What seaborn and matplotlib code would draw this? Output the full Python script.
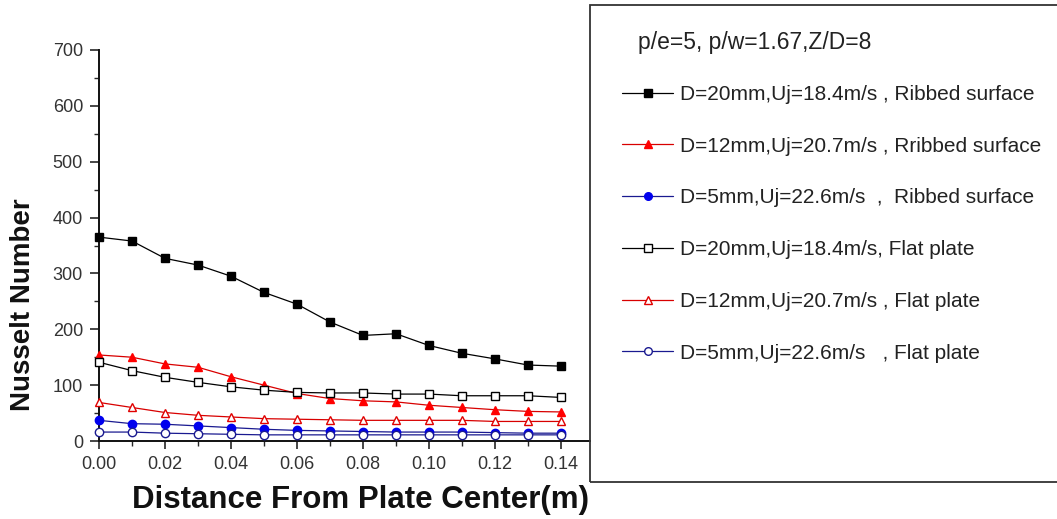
import matplotlib
matplotlib.use("Agg")
import matplotlib.pyplot as plt
from matplotlib.patches import Rectangle
from matplotlib.ticker import MultipleLocator, FormatStrFormatter
import seaborn as sns
import pandas as pd

# ---- data ----
distance = [0.00, 0.01, 0.02, 0.03, 0.04, 0.05, 0.06, 0.07, 0.08, 0.09, 0.10, 0.11, 0.12, 0.13, 0.14]
ribbed_d20 = [365, 358, 327, 315, 295, 266, 245, 213, 189, 192, 171, 157, 147, 136, 134]
ribbed_d12 = [154, 150, 138, 132, 115, 100, 85, 76, 72, 70, 64, 60, 56, 53, 52]
ribbed_d5 = [37, 31, 30, 27, 24, 21, 19, 18, 17, 16, 16, 16, 15, 14, 14]
flat_d20 = [141, 126, 114, 105, 97, 91, 87, 86, 86, 84, 84, 81, 81, 81, 78]
flat_d12 = [69, 60, 51, 46, 43, 40, 39, 38, 37, 37, 37, 37, 35, 35, 35]
flat_d5 = [16, 16, 14, 13, 12, 11, 11, 11, 11, 11, 11, 11, 11, 11, 11]

labels = [
    "D=20mm,Uj=18.4m/s , Ribbed surface",
    "D=12mm,Uj=20.7m/s , Rribbed surface",
    "D=5mm,Uj=22.6m/s  ,  Ribbed surface",
    "D=20mm,Uj=18.4m/s, Flat plate",
    "D=12mm,Uj=20.7m/s , Flat plate",
    "D=5mm,Uj=22.6m/s   , Flat plate",
]
series = [ribbed_d20, ribbed_d12, ribbed_d5, flat_d20, flat_d12, flat_d5]
legend_title = "p/e=5, p/w=1.67,Z/D=8"
x_label = "Distance From Plate Center(m)"
y_label = "Nusselt Number"

frames = []
for lab, vals in zip(labels, series):
    frames.append(pd.DataFrame({"x": distance, "y": vals, "series": lab}))
df = pd.concat(frames, ignore_index=True)

# ---- styles ----
styles = [
    dict(color="#000000", marker="s", mfc="#000000", mec="#000000"),
    dict(color="#d80000", marker="^", mfc="#ff0000", mec="#ff0000"),
    dict(color="#1a1a90", marker="o", mfc="#0000ee", mec="#0000ee"),
    dict(color="#000000", marker="s", mfc="white", mec="#000000"),
    dict(color="#d80000", marker="^", mfc="white", mec="#e00000"),
    dict(color="#1a1a90", marker="o", mfc="white", mec="#1a1a90"),
]

sns.set_style("ticks")
plt.rcParams["font.family"] = ["Liberation Sans", "DejaVu Sans"]

W, H = 1057, 519
fig = plt.figure(figsize=(W / 100, H / 100), dpi=100)
ax = fig.add_axes([99 / W, (H - 441) / H, (590 - 99) / W, (441 - 50) / H])

for lab, st in zip(labels, styles):
    sub = df[df["series"] == lab]
    sns.lineplot(data=sub, x="x", y="y", ax=ax, estimator=None, sort=False,
                 color=st["color"], marker=st["marker"], markersize=6,
                 markerfacecolor=st["mfc"], markeredgecolor=st["mec"],
                 markeredgewidth=1.0, linewidth=0.9, legend=False,
                 clip_on=False, zorder=3)

ax.set_xlim(0, 0.1488)
ax.set_ylim(0, 700)
ax.xaxis.set_minor_locator(MultipleLocator(0.01))
ax.xaxis.set_major_formatter(FormatStrFormatter("%.2f"))
ax.yaxis.set_major_locator(MultipleLocator(100))
ax.yaxis.set_minor_locator(MultipleLocator(50))
ax.set_xticks([0.00, 0.02, 0.04, 0.06, 0.08, 0.10, 0.12, 0.14])

for s in ["top", "right"]:
    ax.spines[s].set_visible(False)
for s in ["left", "bottom"]:
    ax.spines[s].set_linewidth(1.4)
    ax.spines[s].set_color("#111111")

ax.tick_params(axis="x", which="major", length=6, width=1.2, pad=5,
               labelsize=13, labelcolor="#333333", direction="out")
ax.tick_params(axis="x", which="minor", length=3.5, width=1.0, direction="out")
ax.tick_params(axis="y", which="major", length=6.5, width=1.2, pad=5,
               labelsize=13, labelcolor="#333333", direction="out")
ax.tick_params(axis="y", which="minor", length=3.5, width=1.0, direction="out")

ax.set_xlabel("")
ax.set_ylabel("")
fig.text(361 / W, 1 - 500 / H, x_label, ha="center", va="center",
         fontsize=22.5, fontweight="bold", color="#111111")
fig.text(23 / W, 1 - 305 / H, y_label, ha="center", va="center",
         rotation=90, fontsize=20, fontweight="bold", color="#111111")

# legend frame
fig.add_artist(Rectangle((590 / W, (H - 482) / H), 0.6, (482 - 5) / H,
                         transform=fig.transFigure, fill=False,
                         linewidth=1.3, edgecolor="#333333", clip_on=False))
fig.text(638 / W, 1 - 43 / H, legend_title, ha="left", va="center",
         fontsize=16.5, color="#222222")

handles = ax.lines[:6]
leg = fig.legend(handles, labels, loc="upper left",
                 bbox_to_anchor=(622 / W, 1 - 85 / H),
                 frameon=False, fontsize=15, handlelength=2.45,
                 handletextpad=0.33, labelspacing=1.57, borderpad=0,
                 borderaxespad=0, labelcolor="#222222")
for h in leg.legend_handles:
    h.set_markersize(5.5)

fig.savefig("out.png", dpi=100)
